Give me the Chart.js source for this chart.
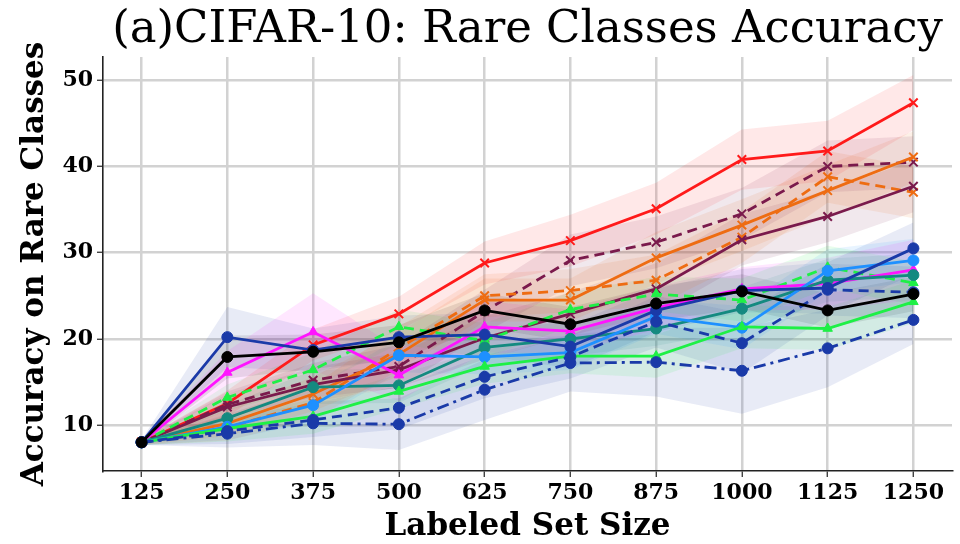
<!DOCTYPE html>
<html>
<head>
<meta charset="utf-8">
<script src="https://cdn.jsdelivr.net/npm/chart.js@4.4.1/dist/chart.umd.min.js"></script>
<style>
  html, body { margin: 0; padding: 0; background: #fff; }
  #wrap { width: 960px; height: 544px; }
</style>
</head>
<body>
<div id="wrap"><canvas id="chart" width="960" height="544"></canvas></div>
<script>
// labeled set sizes (x axis)
const sizes = [125, 250, 375, 500, 625, 750, 875, 1000, 1125, 1250];
const yTicks = [10, 20, 30, 40, 50];

// mean accuracy on rare classes
const redSolid    = [8.0, 12.5, 19.3, 22.9, 28.8, 31.4, 35.1, 40.8, 41.8, 47.4];
const maroonDash  = [8.0, 12.4, 15.2, 16.8, 23.2, 29.1, 31.2, 34.5, 40.0, 40.5];
const orangeSolid = [8.0, 10.2, 13.6, 18.2, 24.5, 24.5, 29.4, 33.2, 37.2, 41.1];
const orangeDash  = [8.0, 9.7, 12.6, 18.9, 25.0, 25.6, 26.8, 31.8, 38.8, 37.0];
const maroonSolid = [8.0, 12.1, 14.7, 16.4, 20.1, 22.9, 25.8, 31.5, 34.2, 37.7];
const greenDash   = [8.0, 13.2, 16.4, 21.4, 19.8, 23.4, 25.2, 24.5, 28.3, 26.5];
const blackSolid  = [8.0, 17.9, 18.5, 19.6, 23.3, 21.7, 24.1, 25.5, 23.3, 25.2];
const blueSolid   = [8.0, 20.2, 18.7, 20.2, 20.5, 19.1, 23.3, 25.6, 25.9, 30.5];
const magentaLine = [8.0, 16.1, 20.8, 15.8, 21.4, 20.9, 23.6, 25.8, 26.4, 28.0];
const tealSolid   = [8.0, 10.8, 14.4, 14.6, 19.0, 20.0, 21.2, 23.5, 26.8, 27.4];
const skySolid    = [8.0, 9.8, 12.3, 18.1, 17.9, 18.4, 22.6, 21.3, 27.9, 29.1];
const greenSolid  = [8.0, 9.6, 11.0, 13.9, 16.8, 18.0, 18.0, 21.4, 21.2, 24.3];
const blueDash    = [8.0, 9.3, 10.6, 12.0, 15.6, 17.9, 22.0, 19.5, 25.7, 25.4];
const blueDashDot = [8.0, 9.0, 10.2, 10.1, 14.1, 17.2, 17.3, 16.3, 18.9, 22.2];

// spread of each run (half width of the shaded band)
const redStd     = [0.3, 1.5, 1.8, 2.0, 2.5, 3.0, 3.0, 3.5, 3.5, 3.2];
const maroonDStd = [0.3, 1.5, 2.0, 2.5, 2.5, 3.0, 3.0, 3.0, 3.0, 3.0];
const orangeSStd = [0.3, 1.5, 2.0, 2.5, 2.5, 2.5, 3.0, 3.0, 3.0, 3.0];
const orangeDStd = [0.3, 1.5, 2.0, 2.5, 2.5, 2.5, 3.0, 3.0, 3.0, 3.0];
const maroonSStd = [0.3, 1.5, 2.0, 2.0, 2.5, 2.5, 3.0, 3.0, 3.0, 3.0];
const greenDStd  = [0.3, 1.5, 2.0, 2.0, 2.0, 2.0, 2.0, 2.5, 2.5, 2.5];
const blackStd   = [0.3, 2.5, 2.0, 2.0, 2.0, 2.0, 2.0, 2.0, 2.0, 2.0];
const blueSStd   = [0.3, 3.5, 2.5, 2.5, 2.5, 2.5, 2.5, 2.5, 3.0, 3.0];
const magentaStd = [0.3, 2.5, 4.5, 3.0, 3.0, 2.5, 2.5, 2.5, 3.0, 3.5];
const tealStd    = [0.3, 1.5, 2.0, 2.0, 2.0, 2.0, 2.0, 2.5, 2.5, 2.5];
const skyStd     = [0.3, 1.5, 2.0, 2.0, 2.0, 2.0, 2.0, 2.5, 2.5, 2.5];
const greenSStd  = [0.3, 1.5, 2.0, 2.0, 2.0, 2.0, 2.5, 2.5, 2.5, 2.5];
const blueDStd   = [0.3, 1.5, 2.0, 2.5, 2.5, 2.5, 3.0, 3.5, 3.0, 3.0];
const blueDDStd  = [0.3, 1.6, 2.5, 3.0, 3.5, 3.3, 4.0, 5.0, 4.5, 2.8];

const runs = [
  {vals: redSolid,    std: redStd,     color: [255, 26, 26],  dash: [],             marker: 'crossRot'},
  {vals: maroonDash,  std: maroonDStd, color: [122, 26, 76],  dash: [10, 6],        marker: 'crossRot'},
  {vals: orangeSolid, std: orangeSStd, color: [238, 108, 18], dash: [],             marker: 'crossRot'},
  {vals: orangeDash,  std: orangeDStd, color: [238, 108, 18], dash: [10, 6],        marker: 'crossRot'},
  {vals: maroonSolid, std: maroonSStd, color: [122, 26, 76],  dash: [],             marker: 'crossRot'},
  {vals: greenDash,   std: greenDStd,  color: [30, 240, 70],  dash: [10, 6],        marker: 'triangle'},
  {vals: magentaLine, std: magentaStd, color: [255, 20, 255], dash: [],             marker: 'triangle'},
  {vals: tealSolid,   std: tealStd,    color: [20, 138, 128], dash: [],             marker: 'circle'},
  {vals: skySolid,    std: skyStd,     color: [30, 144, 255], dash: [],             marker: 'circle'},
  {vals: greenSolid,  std: greenSStd,  color: [30, 240, 70],  dash: [],             marker: 'triangle'},
  {vals: blueDash,    std: blueDStd,   color: [26, 58, 168],  dash: [10, 6],        marker: 'circle'},
  {vals: blueDashDot, std: blueDDStd,  color: [26, 58, 168],  dash: [12, 5, 3, 5],  marker: 'circle'},
  {vals: blueSolid,   std: blueSStd,   color: [26, 58, 168],  dash: [],             marker: 'circle'},
  {vals: blackSolid,  std: blackStd,   color: [0, 0, 0],      dash: [],             marker: 'circle'}
];

function pts(vals) {
  return sizes.map((s, i) => ({x: s, y: vals[i]}));
}
function rgba(c, a) {
  return `rgba(${c[0]}, ${c[1]}, ${c[2]}, ${a})`;
}

let datasets = [];
// shaded bands first
runs.forEach(r => {
  let lowIdx = datasets.length;
  datasets.push({
    data: pts(r.vals.map((v, i) => v - r.std[i])),
    borderWidth: 0, borderColor: 'rgba(0,0,0,0)', pointRadius: 0, fill: false, order: 50
  });
  datasets.push({
    data: pts(r.vals.map((v, i) => v + r.std[i])),
    borderWidth: 0, borderColor: 'rgba(0,0,0,0)', pointRadius: 0,
    fill: {target: lowIdx}, backgroundColor: rgba(r.color, 0.1), order: 50
  });
});
// then the lines, last one on top
runs.forEach((r, k) => {
  datasets.push({
    data: pts(r.vals),
    borderColor: rgba(r.color, 1),
    borderWidth: 2.8,
    borderDash: r.dash,
    pointStyle: r.marker,
    pointRadius: r.marker === 'crossRot' ? 6 : 5.5,
    pointBorderWidth: r.marker === 'crossRot' ? 2 : 1,
    pointBackgroundColor: rgba(r.color, 1),
    pointBorderColor: rgba(r.color, 1),
    fill: false,
    order: runs.length - k
  });
});

const serif = '"DejaVu Serif", "Liberation Serif", serif';

new Chart(document.getElementById('chart').getContext('2d'), {
  type: 'line',
  data: {datasets: datasets},
  options: {
    responsive: false,
    animation: false,
    layout: {padding: {left: 0, right: 0, top: 0, bottom: 0}},
    plugins: {
      legend: {display: false},
      tooltip: {enabled: false},
      filler: {drawTime: 'beforeDatasetsDraw'},
      title: {
        display: true,
        fullSize: false,
        text: '(a)CIFAR-10: Rare Classes Accuracy',
        color: '#000',
        font: {family: serif, size: 45, weight: 'normal', lineHeight: 1.2},
        padding: {top: 3, bottom: 0}
      }
    },
    scales: {
      x: {
        type: 'linear',
        min: 68.75,
        max: 1306.25,
        afterBuildTicks: s => { s.ticks = sizes.map(v => ({value: v})); },
        afterFit: s => { s.height = 73; },
        grid: {color: '#d2d2d2', lineWidth: 2.5, tickColor: '#222', tickLength: 6, tickWidth: 1.2},
        border: {display: true, color: '#222', width: 1.6},
        ticks: {color: '#000', font: {family: serif, size: 22, weight: 'bold'}, padding: 3, maxRotation: 0,
                callback: v => String(v)},
        title: {display: true, text: 'Labeled Set Size', color: '#000',
                font: {family: serif, size: 31, weight: 'bold', lineHeight: 1.1}, padding: {top: 0, bottom: 0}}
      },
      y: {
        type: 'linear',
        min: 4.67,
        max: 52.7,
        afterBuildTicks: s => { s.ticks = yTicks.map(v => ({value: v})); },
        afterFit: s => { s.width = 103; },
        grid: {color: '#d2d2d2', lineWidth: 2.5, tickColor: '#222', tickLength: 6, tickWidth: 1.2},
        border: {display: true, color: '#222', width: 1.6},
        ticks: {color: '#000', font: {family: serif, size: 22, weight: 'bold'}, padding: 4,
                callback: v => String(v)},
        title: {display: true, text: 'Accuracy on Rare Classes', color: '#000',
                font: {family: serif, size: 31, weight: 'bold', lineHeight: 1.1}, padding: {top: 18, bottom: 0}}
      }
    }
  }
});
</script>
</body>
</html>
